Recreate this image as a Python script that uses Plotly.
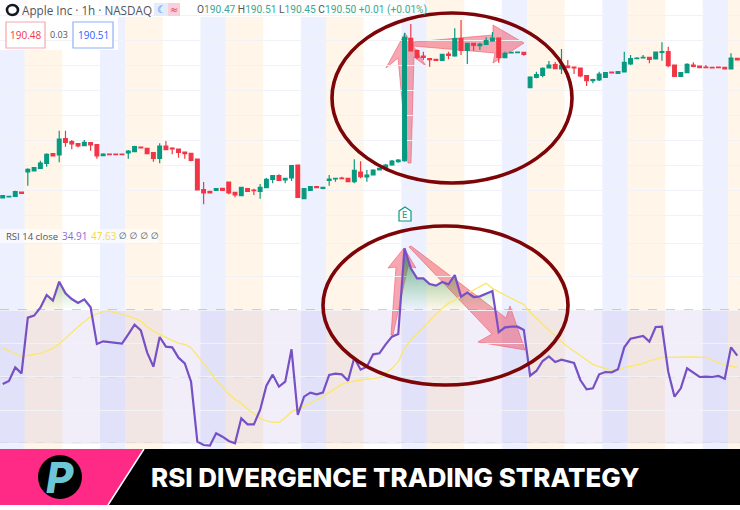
import plotly.graph_objects as go

W, H = 740, 510

opens = [186.36,186.39,186.41,186.54,187.14,187.17,187.25,187.40,187.69,187.65,188.14,188.05,187.99,187.93,188.02,187.96,187.63,187.68,187.68,187.68,
187.71,187.75,187.89,187.85,187.72,187.55,187.92,187.86,187.83,187.74,187.70,187.53,186.61,186.56,186.59,186.65,186.84,186.53,186.43,186.64,
186.60,186.56,186.67,186.92,187.03,186.90,186.96,187.35,186.34,186.59,186.70,186.65,186.89,186.93,186.96,186.95,186.85,187.14,186.99,187.05,
187.20,187.25,187.35,187.45,187.48,191.15,190.78,190.62,190.54,190.52,190.49,190.68,190.62,191.14,190.79,191.00,190.93,190.97,191.07,191.16,
190.57,190.71,190.72,190.73,189.67,189.98,190.04,190.26,190.36,190.23,190.32,190.29,190.26,190.03,189.88,189.90,189.98,190.14,190.10,190.14,
190.38,190.54,190.56,190.58,190.53,190.73,190.75,190.35,190.01,190.12,190.35,190.32,190.29,190.28,190.29,190.28,190.23,190.55]
highs = [186.45,186.41,186.58,186.54,187.25,187.27,187.48,187.70,187.69,188.38,188.38,188.10,188.00,188.10,188.04,187.98,187.70,187.68,187.68,187.68,
187.80,187.93,187.89,187.85,187.72,188.00,188.07,187.88,187.83,187.75,187.72,187.53,186.84,186.56,186.64,186.65,186.85,186.53,186.68,186.64,
186.64,186.78,186.97,187.05,187.07,186.95,187.35,187.35,186.64,186.70,186.70,186.70,187.05,186.97,187.00,186.95,187.52,187.46,187.20,187.22,
187.25,187.38,187.50,187.53,191.32,191.58,190.82,190.75,190.54,190.52,190.67,190.75,191.45,191.70,191.02,191.02,191.02,191.18,191.34,191.18,
190.75,190.73,190.74,190.74,190.01,190.15,190.28,190.47,190.44,190.83,190.50,190.29,190.26,190.04,189.94,190.15,190.12,190.14,190.15,190.75,
190.65,190.58,190.65,190.58,190.74,191.03,190.90,190.35,190.12,190.40,190.43,190.32,190.35,190.28,190.29,190.28,190.70,190.55]
lows = [186.35,186.39,186.40,186.50,186.73,187.17,187.25,187.30,187.62,187.43,187.90,187.82,187.88,187.92,187.78,187.54,187.62,187.66,187.66,187.66,
187.54,187.74,187.86,187.69,187.45,187.40,187.80,187.67,187.57,187.54,187.46,186.60,186.17,186.51,186.59,186.59,186.47,186.38,186.43,186.56,
186.45,186.34,186.66,186.80,186.88,186.80,186.87,186.38,186.34,186.59,186.67,186.62,186.73,186.85,186.92,186.85,186.80,186.95,186.85,187.04,
187.20,187.23,187.33,187.42,187.45,190.77,190.52,190.50,190.30,190.49,190.49,190.52,190.60,190.65,190.38,190.78,190.80,190.96,191.05,190.42,
190.55,190.71,190.72,190.63,189.66,189.95,189.98,190.25,190.24,190.08,190.25,190.08,189.98,189.72,189.80,189.87,189.98,190.11,190.10,190.13,
190.35,190.52,190.55,190.40,190.53,190.48,190.28,190.01,190.01,190.10,190.28,190.27,190.26,190.26,190.27,190.23,190.22,190.50]
closes = [186.43,186.41,186.55,186.50,187.22,187.27,187.41,187.67,187.62,188.13,188.03,187.98,187.92,188.03,187.95,187.62,187.68,187.66,187.66,187.66,
187.77,187.90,187.86,187.69,187.55,187.92,187.81,187.83,187.73,187.69,187.49,186.60,186.51,186.51,186.64,186.59,186.51,186.45,186.68,186.56,
186.58,186.68,186.92,187.03,186.89,186.95,187.33,186.38,186.64,186.70,186.67,186.68,186.93,186.95,186.94,186.85,187.19,187.00,187.05,187.20,
187.25,187.35,187.47,187.50,191.18,190.77,190.58,190.58,190.51,190.49,190.67,190.64,191.14,190.79,191.00,190.94,190.98,191.08,191.16,190.58,
190.70,190.73,190.74,190.67,189.99,190.06,190.25,190.35,190.24,190.34,190.27,190.26,190.02,189.88,189.91,190.08,190.12,190.11,190.15,190.43,
190.54,190.56,190.58,190.52,190.74,190.75,190.33,190.01,190.12,190.37,190.31,190.27,190.27,190.26,190.27,190.23,190.56,190.50]

rsi_values = [47.8,48.7,52.8,51.0,67.7,68.3,70.7,74.5,72.8,78.5,75.0,73.3,72.1,73.2,70.8,59.8,60.6,60.3,60.0,59.9,
62.7,65.6,63.9,57.3,53.0,61.9,59.0,58.8,55.7,54.0,48.5,30.5,29.5,29.3,33.0,32.0,30.7,30.0,37.5,35.7,
35.7,40.0,47.3,50.6,47.0,48.5,58.2,38.5,44.0,45.2,44.7,45.2,50.5,50.9,50.7,48.8,55.7,52.1,53.0,56.7,
57.0,59.7,62.0,62.8,88.5,82.5,79.5,79.5,77.8,77.3,78.4,77.7,80.5,74.0,75.2,73.9,74.1,74.9,75.7,63.3,
64.8,65.0,65.0,64.0,50.3,51.7,54.7,56.1,54.4,55.1,54.7,54.1,49.0,46.2,46.5,50.7,51.4,51.3,52.2,58.8,
61.4,61.8,62.2,60.5,64.9,65.0,51.5,44.0,46.5,52.5,51.2,49.9,50.0,49.9,50.2,49.4,58.8,56.3]
rsi_ma_values = [58.7,57.7,56.8,56.0,56.3,56.7,57.0,57.7,58.5,59.8,61.5,63.5,65.0,66.5,68.0,68.8,69.5,69.7,69.3,68.7,
68.2,67.5,66.7,65.0,63.7,62.7,61.8,60.8,60.0,59.7,58.7,56.3,54.0,51.5,49.0,47.0,44.8,43.2,42.0,40.3,
38.8,37.5,36.7,36.3,36.3,37.7,39.5,40.3,41.0,42.0,43.0,44.0,45.3,46.5,47.7,48.3,48.7,48.9,49.3,49.4,
49.7,51.0,52.5,54.5,58.5,61.0,63.0,65.0,67.0,68.7,70.5,72.0,73.0,74.0,75.0,76.0,77.0,78.0,76.5,75.5,
74.3,73.3,72.5,71.7,69.3,67.5,65.7,64.0,62.3,60.5,59.0,57.7,56.3,55.0,53.7,53.0,52.3,51.8,52.0,52.7,
53.1,53.5,54.0,54.7,55.3,55.8,55.8,55.9,55.9,55.9,55.9,55.9,55.8,55.0,54.3,53.5,53.2,52.7]
rsi_levels = [70, 50, 30]
title_text = "RSI DIVERGENCE TRADING STRATEGY"
symbol_text = "Apple Inc · 1h · NASDAQ"
ohlc_labels = ["O", "H", "L", "C"]
ohlc_values = ["190.47", "190.51", "190.45", "190.50"]
change_text = "+0.01 (+0.01%)"
bid_text, spread_text, ask_text = "190.48", "0.03", "190.51"

GREEN, RED = "#089981", "#f23645"
PURPLE, YELLOW = "#7651c6", "#fbe76a"
SANS = "Open Sans, sans-serif"
x = list(range(len(closes)))


def px(v):
    return v / W


def py(v):
    return 1 - v / H


def poly(points):
    return "M " + " L ".join(f"{px(a):.5f},{py(b):.5f}" for a, b in points) + " Z"


def paper_shape(path, fill, line="rgba(0,0,0,0)", lw=0, layer="above"):
    return dict(type="path", path=path, xref="paper", yref="paper", fillcolor=fill,
                line=dict(color=line, width=lw), layer=layer)


def rect(x0, y0, x1, y1, fill, line=None, lw=0, layer="above"):
    return dict(type="rect", xref="paper", yref="paper", x0=px(x0), x1=px(x1), y0=py(y1), y1=py(y0),
                fillcolor=fill, line=dict(color=line or "rgba(0,0,0,0)", width=lw), layer=layer)


def ellipse(x0, y0, x1, y1, color, lw, fill="rgba(0,0,0,0)"):
    return dict(type="circle", xref="paper", yref="paper", x0=px(x0), x1=px(x1), y0=py(y1), y1=py(y0),
                fillcolor=fill, line=dict(color=color, width=lw), layer="above")


def label(xp, yp, text, size, color, anchor="left", family=SANS, weight=None):
    font = dict(size=size, color=color, family=family)
    if weight:
        font["weight"] = weight
    return dict(x=px(xp), y=py(yp), xref="paper", yref="paper", text=text, showarrow=False,
                xanchor=anchor, yanchor="middle", font=font, borderpad=0, borderwidth=0)


shapes = []
# session bands: 4 bars blue, 6 bars orange, 6 bars white
start = -0.5
while start < len(x):
    shapes.append(dict(type="rect", xref="x", yref="paper", x0=start, x1=start + 4, y0=py(450), y1=1,
                       fillcolor="rgba(41,98,255,0.085)", line=dict(width=0), layer="below"))
    shapes.append(dict(type="rect", xref="x", yref="paper", x0=start + 4, x1=start + 10, y0=py(450), y1=1,
                       fillcolor="rgba(255,152,0,0.085)", line=dict(width=0), layer="below"))
    start += 16
# RSI band and levels
shapes.append(dict(type="rect", xref="paper", yref="y2", x0=0, x1=1, y0=30, y1=70,
                   fillcolor="rgba(126,87,194,0.1)", line=dict(width=0), layer="below"))
for level in rsi_levels:
    shapes.append(dict(type="line", xref="paper", yref="y2", x0=0, x1=1, y0=level, y1=level,
                       line=dict(color="#a0a3ad", width=1, dash="dash"), layer="below"))
# translucent legend backings
shapes.append(rect(0, 0, 425, 17, "rgba(255,255,255,0.85)", layer="below"))
shapes.append(rect(0, 17, 118, 50, "rgba(255,255,255,1)", layer="below"))
shapes.append(rect(0, 229, 158, 243, "rgba(255,255,255,0.6)", layer="below"))

# annotation arrows, behind the candles and RSI line
AF, AL = "rgba(240,80,100,0.5)", "rgba(240,90,105,0.6)"
for pts in [
    [(405, 33), (426, 66), (414, 57), (411, 163), (408, 163), (398, 58), (386, 68)],
    [(413, 42), (493, 35), (493, 25), (524, 43), (493, 63), (495, 53), (413, 46)],
    [(404, 248), (416, 268), (408, 266), (393, 335), (391, 335), (396, 267), (388, 268)],
    [(409, 247), (411, 246), (506, 318), (510, 306), (525, 350), (478, 342), (492, 334)],
]:
    shapes.append(paper_shape(poly(pts), AF, AL, 1, layer="below"))

# circled regions
shapes.append(ellipse(332, 13, 572, 183, "#7d0508", 3.6))
shapes.append(ellipse(323, 226, 568, 385, "#7d0508", 3.6))

# header widgets
shapes.append(ellipse(7, 5, 18, 15, "#131722", 2.6, "#ffffff"))
shapes.append(rect(154, 3, 168, 16, "#e4ecfb"))
shapes.append(rect(168, 3, 180, 16, "#f8cfdc"))
shapes.append(rect(6, 22, 45, 48, "#ffffff", "#f7a6ac", 1.2))
shapes.append(rect(73, 22, 113, 48, "#ffffff", "#8fb0f8", 1.2))

# earnings marker
shapes.append(paper_shape(poly([(399, 211), (405, 207), (411, 211), (411, 221), (399, 221)]),
                          "#ffffff", GREEN, 1.2))

# banner
shapes.append(rect(0, 449, 740, 505, "#000000"))
shapes.append(paper_shape(poly([(0, 449), (144, 449), (108, 505), (0, 505)]), "#ff2a85"))
shapes.append(dict(type="line", xref="paper", yref="paper", x0=px(144), y0=py(449), x1=px(108), y1=py(505),
                   line=dict(color="#ffffff", width=1.5), layer="above"))
shapes.append(ellipse(38, 455, 82, 499, "#000000", 0, "#000000"))


# overbought fill geometry, with the crossing points of the 70 level
fx, fy = [], []
for i, v in enumerate(rsi_values):
    if i and (rsi_values[i - 1] - 70) * (v - 70) < 0:
        fx.append(i - 1 + (70 - rsi_values[i - 1]) / (v - rsi_values[i - 1]))
        fy.append(70)
    fx.append(i)
    fy.append(max(v, 70))

fig = go.Figure()
fig.add_trace(go.Candlestick(
    x=x, open=opens, high=highs, low=lows, close=closes, xaxis="x", yaxis="y",
    increasing=dict(line=dict(color=GREEN, width=1.2), fillcolor=GREEN),
    decreasing=dict(line=dict(color=RED, width=1.2), fillcolor=RED),
    whiskerwidth=0, showlegend=False, hoverinfo="skip"))
fig.add_trace(go.Scatter(x=fx, y=[70] * len(fx), xaxis="x", yaxis="y2", mode="lines",
                         line=dict(width=0), showlegend=False, hoverinfo="skip"))
fig.add_trace(go.Scatter(x=fx, y=fy, xaxis="x", yaxis="y2", mode="lines", line=dict(width=0),
                         fill="tonexty", fillgradient=dict(type="vertical", start=70, stop=85, colorscale=[
                             [0, "rgba(76,175,80,0)"], [1, "rgba(30,130,70,0.6)"]]),
                         showlegend=False, hoverinfo="skip"))
fig.add_trace(go.Scatter(x=x, y=rsi_ma_values, xaxis="x", yaxis="y2", mode="lines",
                         line=dict(color=YELLOW, width=1.3), showlegend=False, hoverinfo="skip"))
fig.add_trace(go.Scatter(x=x, y=rsi_values, xaxis="x", yaxis="y2", mode="lines",
                         line=dict(color=PURPLE, width=2.2), showlegend=False, hoverinfo="skip"))

ohlc_html = "".join(
    f'<span style="color:#555">{a}</span>{b} ' for a, b in zip(ohlc_labels, ohlc_values)
) + change_text

annotations = [
    label(22, 10, symbol_text, 11.7, "#50535e"),
    label(161, 9.5, "☾", 10, "#2962ff", "center", "DejaVu Sans"),
    label(174, 9.5, "≈", 10, "#f23645", "center", "DejaVu Sans"),
    label(197, 10, ohlc_html, 10.2, "#3aa98f", family="Roboto, sans-serif"),
    label(25.5, 35, bid_text, 10, "#f23645", "center"),
    label(59, 35, spread_text, 9, "#50535e", "center"),
    label(93, 35, ask_text, 10, "#2962ff", "center"),
    label(405, 214.5, "E", 8.5, GREEN, "center", "DejaVu Sans"),
    label(6, 236, "RSI 14 close", 9.5, "#50535e"),
    label(62, 236, "34.91", 10, "#8a6bd0"),
    label(91, 236, "47.63", 10, "#f5d84a"),
    label(119, 236, "∅ ∅ ∅ ∅", 9, "#50535e", family="DejaVu Sans"),
    label(60, 477, "<i>P</i>", 42, "#6cc6d6", "center", "Inter, sans-serif", 800),
    label(151, 477, title_text, 25.9, "#ffffff", family="Inter, sans-serif", weight=800),
]

fig.update_layout(
    width=W, height=H, margin=dict(l=0, r=0, t=0, b=0), autosize=False,
    paper_bgcolor="#ffffff", plot_bgcolor="#ffffff", showlegend=False, boxgap=0.15,
    shapes=shapes, annotations=annotations,
    xaxis=dict(domain=[0, 1], range=[-0.43, 117.43], visible=False, rangeslider=dict(visible=False),
               anchor="y"),
    yaxis=dict(domain=[py(222), 1], range=[185.64, 192.30], showticklabels=False, ticks="",
               tick0=191.08, dtick=0.75, gridcolor="#f0f2f7", gridwidth=1, zeroline=False, showline=False),
    yaxis2=dict(domain=[py(450), py(225)], range=[28.0, 95.5], showticklabels=False, ticks="",
                tick0=30, dtick=10, gridcolor="#f0f2f7", gridwidth=1, zeroline=False, showline=False),
)
fig.write_html("out.html", config=dict(displayModeBar=False),
               post_script="document.body.style.margin='0';document.body.style.overflow='hidden';")
